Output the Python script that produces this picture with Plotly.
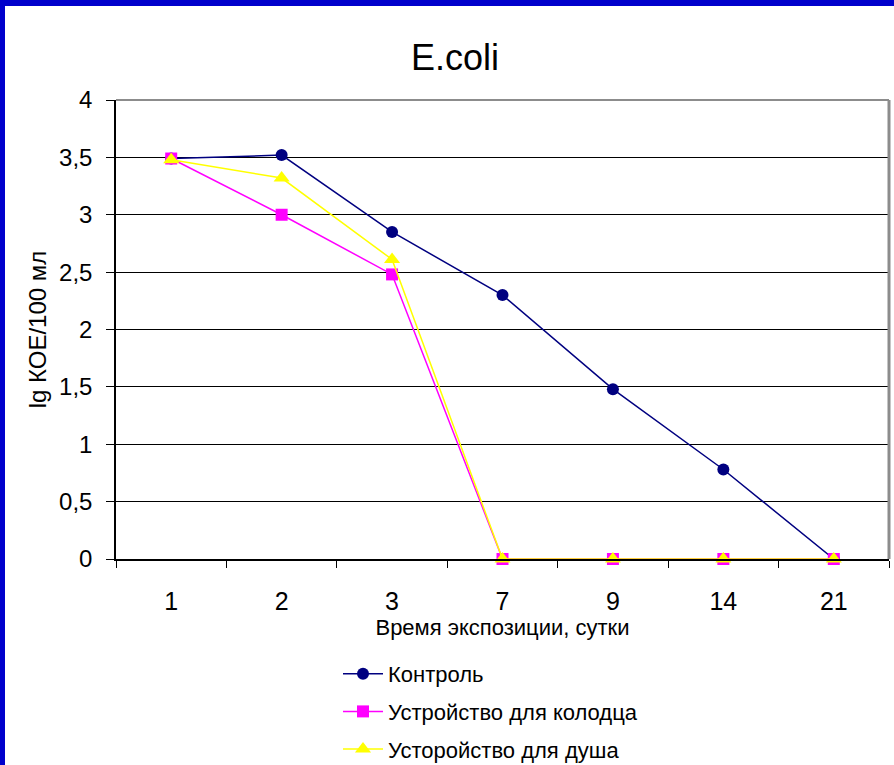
import plotly.graph_objects as go

days = ["1", "2", "3", "7", "9", "14", "21"]
control = [3.49, 3.52, 2.85, 2.30, 1.48, 0.78, 0.0]
well = [3.49, 3.00, 2.48, 0.0, 0.0, 0.0, 0.0]
shower = [3.48, 3.32, 2.61, 0.0, 0.0, 0.0, 0.0]

names = ["Контроль", "Устройство для колодца", "Усторойство для душа"]
colors = ["#000080", "#FF00FF", "#FFFF00"]
symbols = ["circle", "square", "triangle-up"]
sizes = [12, 12, 14]

W, H = 894, 765
L, R, T, B = 116, 5, 100, 206
pw, ph = W - L - R, H - T - B

fig = go.Figure()
for i, vals in enumerate([control, well, shower]):
    fig.add_trace(go.Scatter(
        x=days, y=vals, name=names[i], mode="lines+markers",
        line=dict(color=colors[i], width=1.5),
        marker=dict(symbol=symbols[i], size=sizes[i], color=colors[i]),
        legendgroup=str(i), cliponaxis=False,
    ))

font = "Liberation Sans, Arial, sans-serif"

def px_x(x):
    return (x - L) / pw

def px_y(y):
    return (H - B - y) / ph

fig.update_layout(
    width=W, height=H,
    margin=dict(l=L, r=R, t=T, b=B, autoexpand=False),
    paper_bgcolor="white", plot_bgcolor="white",
    separators=", ",
    font=dict(family=font, color="black", size=22),
    title=dict(text="E.coli", x=(455) / W, xanchor="center", y=1 - 57 / H, yanchor="middle",
               font=dict(size=36, family=font, color="black")),
    showlegend=True,
    legend=dict(x=px_x(338), y=px_y(653), xanchor="left", yanchor="top",
                font=dict(size=22, family=font), tracegroupgap=6,
                bgcolor="rgba(0,0,0,0)", itemwidth=40),
    xaxis=dict(type="category", tickson="boundaries", showgrid=False,
               ticks="outside", ticklen=7, tickcolor="black", tickwidth=1,
               showline=True, linecolor="black", linewidth=1.5,
               tickfont=dict(size=25), ticklabelstandoff=19,
               title=dict(text="Время экспозиции, сутки", font=dict(size=22), standoff=0),
               range=[-0.5, 6.5], fixedrange=True, automargin=False),
    yaxis=dict(range=[0, 4], dtick=0.5, tick0=0, showgrid=True, gridcolor="black", gridwidth=1,
               ticks="outside", ticklen=8, tickcolor="black",
               showline=True, linecolor="black", linewidth=1.5,
               tickfont=dict(size=24), ticklabelstandoff=9,
               title=dict(text="lg КОЕ/100 мл", font=dict(size=24), standoff=6),
               zeroline=False, automargin=False),
)

# plot-area border (top and right in gray)
fig.add_shape(type="line", xref="paper", yref="paper", x0=0, x1=1, y0=1, y1=1,
              line=dict(color="#8c8c8c", width=2))
fig.add_shape(type="line", xref="paper", yref="paper", x0=1, x1=1, y0=0, y1=1,
              line=dict(color="#8c8c8c", width=3))

# blue frame at top and left edges of the picture
fig.add_shape(type="rect", xref="paper", yref="paper",
              x0=px_x(0), x1=px_x(W), y0=px_y(6), y1=px_y(0),
              fillcolor="#0000CC", line=dict(width=0), layer="above")
fig.add_shape(type="rect", xref="paper", yref="paper",
              x0=px_x(0), x1=px_x(5), y0=px_y(H), y1=px_y(0),
              fillcolor="#0000CC", line=dict(width=0), layer="above")

fig.write_html("out.html")
